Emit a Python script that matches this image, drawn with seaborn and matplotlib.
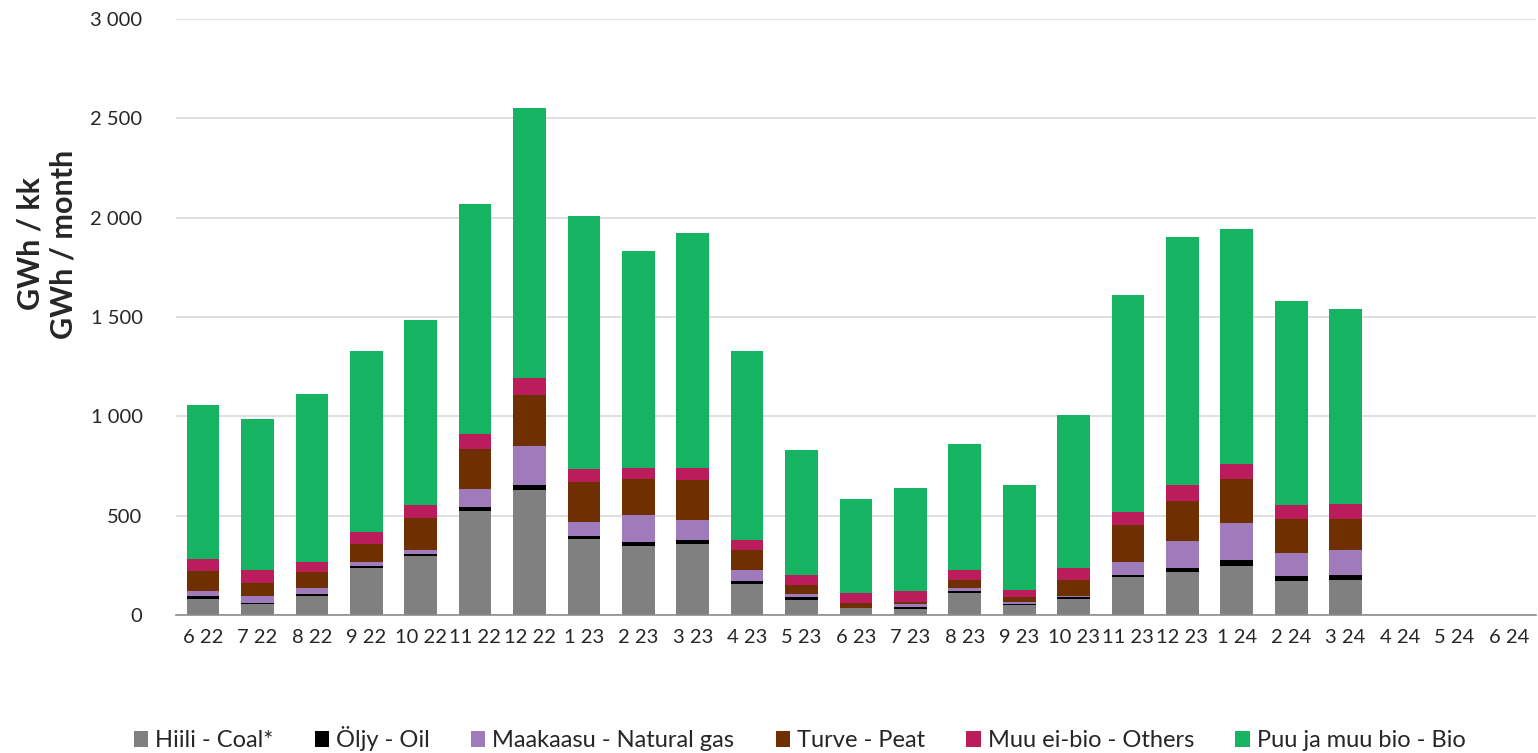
import numpy as np
import pandas as pd
import matplotlib
matplotlib.use("Agg")
import matplotlib.pyplot as plt
import seaborn as sns

MONTHS = ["6 22", "7 22", "8 22", "9 22", "10 22", "11 22", "12 22",
          "1 23", "2 23", "3 23", "4 23", "5 23", "6 23", "7 23", "8 23",
          "9 23", "10 23", "11 23", "12 23", "1 24", "2 24", "3 24",
          "4 24", "5 24", "6 24"]

# GWh per month, per fuel
coal = [81, 54, 96, 237, 296, 524, 631, 380, 347, 355, 155, 77, 33, 30, 111,
        52, 81, 190, 214, 247, 172, 178, 0, 0, 0]
oil = [13, 8, 10, 10, 10, 20, 22, 16, 20, 22, 15, 11, 2, 9, 9,
       5, 8, 10, 22, 29, 22, 22, 0, 0, 0]
gas = [26, 32, 30, 22, 22, 92, 199, 74, 136, 103, 57, 16, 2, 15, 18,
       10, 7, 69, 134, 187, 119, 128, 0, 0, 0]
peat = [99, 66, 81, 90, 160, 199, 256, 198, 182, 198, 101, 49, 24, 10, 39,
        21, 81, 182, 206, 222, 172, 157, 0, 0, 0]
others = [64, 67, 51, 59, 64, 77, 85, 68, 57, 64, 47, 49, 48, 56, 49,
          38, 57, 68, 76, 76, 67, 76, 0, 0, 0]
bio = [772, 759, 844, 911, 933, 1156, 1359, 1272, 1090, 1180, 954, 628, 475, 519, 636,
       527, 771, 1091, 1250, 1182, 1028, 979, 0, 0, 0]

SERIES = ["Hiili - Coal*", "Öljy - Oil", "Maakaasu - Natural gas",
          "Turve - Peat", "Muu ei-bio - Others", "Puu ja muu bio - Bio"]
COLORS = ["#808080", "#000000", "#A07BBC", "#702F00", "#BA1C5C", "#16B363"]
YTICK_LABELS = ["0", "500", "1 000", "1 500", "2 000", "2 500", "3 000"]

sns.set_style("white")
plt.rcParams["font.family"] = ["Lato", "DejaVu Sans"]

df = pd.DataFrame({"month": MONTHS, SERIES[0]: coal, SERIES[1]: oil, SERIES[2]: gas,
                   SERIES[3]: peat, SERIES[4]: others, SERIES[5]: bio})
cum = df[SERIES].cumsum(axis=1)

fig = plt.figure(figsize=(15.38, 7.53), dpi=100)
ax = fig.add_axes([0.1144, 0.1833, 0.8843, 0.7915])

# cumulative bars, top layer first so the lower layers sit on top of it
for name, color in zip(reversed(SERIES), reversed(COLORS)):
    sns.barplot(x=df["month"], y=cum[name], color=color, width=0.6,
                ax=ax, label=name, saturation=1, linewidth=0)

ax.set_ylim(0, 3000)
ax.set_xlim(-0.5, len(MONTHS) - 0.5)
ax.set_yticks(np.arange(0, 3001, 500))
ax.set_yticklabels(YTICK_LABELS)
ax.yaxis.grid(True, color="#D9D9D9", linewidth=1.2)
ax.set_axisbelow(True)
for s in ["top", "right", "left"]:
    ax.spines[s].set_visible(False)
ax.spines["bottom"].set_color("#8C8C8C")
ax.spines["bottom"].set_linewidth(1.2)

ax.set_xticks(np.arange(-0.5, len(MONTHS), 1.0), minor=True)
ax.tick_params(axis="x", which="minor", length=7, color="#8C8C8C", width=1.2)
ax.tick_params(axis="x", which="major", length=0, labelsize=14.5, pad=10)
ax.tick_params(axis="y", length=0, labelsize=14.5, pad=24)
ax.set_xlabel("")
ax.set_ylabel("")
fig.text(47 / 1538, 1 - 244 / 753, "GWh / kk\nGWh / month", rotation=90,
         ha="center", va="center", multialignment="center",
         fontsize=22, fontweight="bold", linespacing=1.25)

handles, labels = ax.get_legend_handles_labels()
order = [labels.index(n) for n in SERIES]
if ax.get_legend():
    ax.get_legend().remove()
fig.legend([handles[i] for i in order], [labels[i] for i in order],
           loc="lower center", bbox_to_anchor=(0.52, -0.026), ncol=6, frameon=False,
           fontsize=17, handlelength=0.6, handleheight=0.7, handletextpad=0.3,
           columnspacing=1.75)

fig.savefig("out.png", dpi=100)
